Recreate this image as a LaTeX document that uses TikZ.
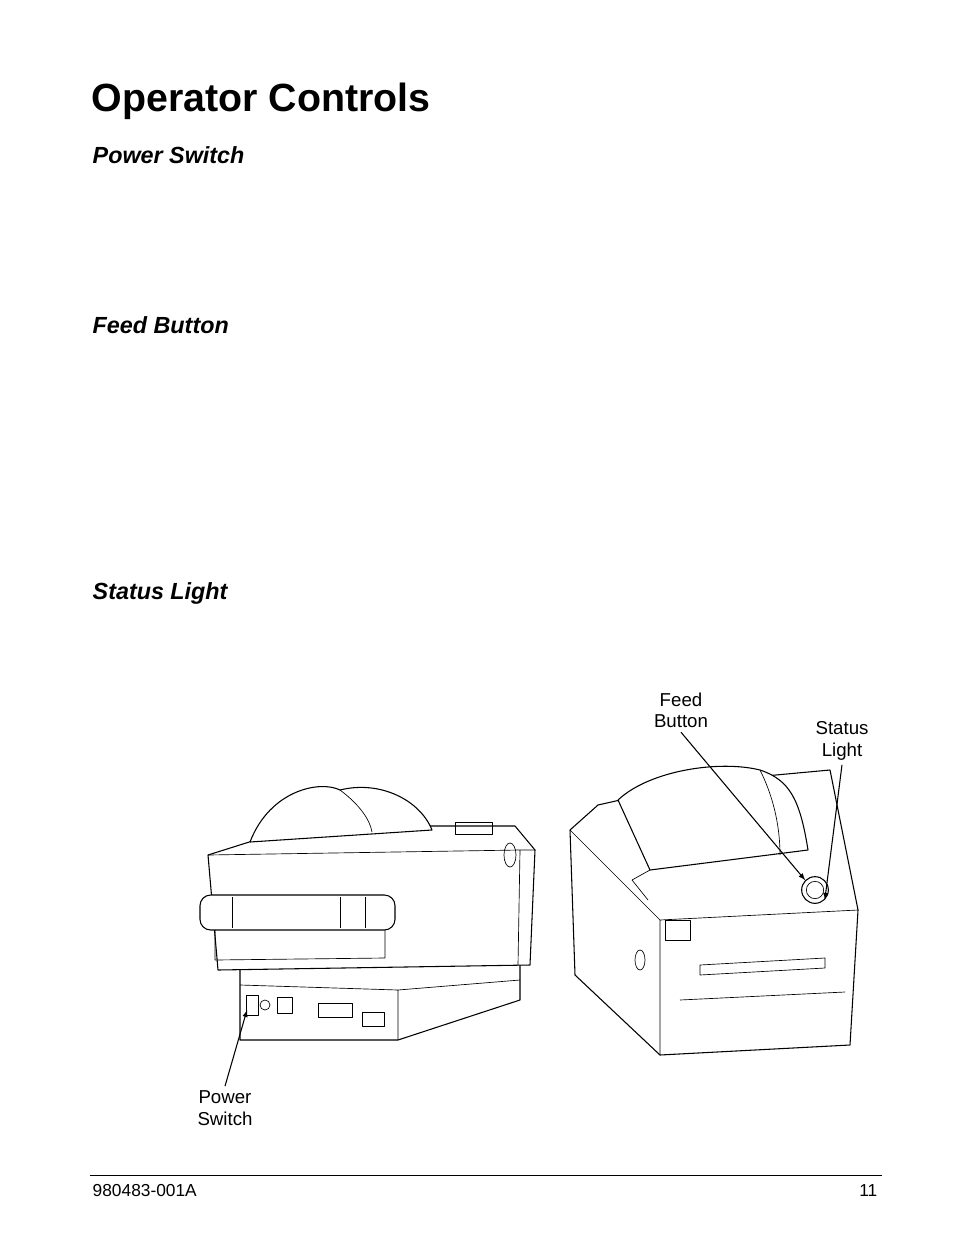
\documentclass[tikz,border=0pt]{standalone}
\usepackage{fontspec}
\setmainfont{Liberation Sans}
\begin{document}
\begin{tikzpicture}[x=0.75pt,y=-0.75pt,line join=round]
\tikzset{
  part/.style={draw, line width=0.8pt, fill=white},
  thin/.style={draw, line width=0.5pt},
  callout/.style={font=\fontsize{14}{16}\selectfont, align=center},
  pointer/.style={->, >=latex, line width=0.8pt},
  heading/.style={anchor=west, font=\fontsize{17.5}{20}\selectfont\bfseries\itshape}
}
\useasboundingbox (0,0) rectangle (954,1248);

% page text
\node[anchor=west, font=\fontsize{29.5}{32}\selectfont\bfseries] (title) at (87,101) {Operator Controls};
\node[heading] (hpower) at (88,155) {Power Switch};
\node[heading] (hfeed) at (88,325) {Feed Button};
\node[heading] (hstatus) at (88,593) {Status Light};

% rear view printer
\draw[part] (240,965) -- (520,962) -- (520,1000) -- (398,1040) -- (240,1040) -- cycle;
\draw[thin] (240,985) -- (398,990) -- (520,980) (398,990) -- (398,1040);
\draw[part] (208,855) -- (300,826) -- (515,826) -- (535,850) -- (530,965) -- (218,970) -- cycle;
\draw[thin] (208,855) -- (520,850) -- (535,850);
\draw[thin] (520,850) -- (518,965);
\draw[part] (250,842) .. controls (270,790) and (320,780) .. (340,790)
  .. controls (380,780) and (420,800) .. (432,830) -- (250,842);
\draw[thin] (340,790) .. controls (360,805) and (370,820) .. (372,832);
\draw[thin] (455,822) rectangle (492,834);
\draw[part, rounded corners=8pt] (200,895) rectangle (395,930);
\draw[thin] (232,897) -- (232,928) (340,897) -- (340,928) (365,897) -- (365,928);
\draw[thin] (215,930) -- (215,960) -- (385,958) -- (385,930);
\draw[thin] (510,855) ellipse (6 and 12);
\draw[thin] (246,995) rectangle (258,1015);
\draw[thin] (265,1005) circle (5);
\draw[thin] (277,997) rectangle (292,1013);
\draw[thin] (318,1003) rectangle (352,1017);
\draw[thin] (362,1012) rectangle (384,1026);

% front view printer
\draw[part] (570,830) -- (598,805) -- (700,782) -- (830,770) -- (858,910) -- (850,1045)
  -- (660,1055) -- (575,975) -- cycle;
\draw[thin] (570,830) -- (660,920) -- (858,910) (660,920) -- (660,1055);
\draw[part] (618,800) .. controls (650,770) and (720,760) .. (760,770)
  .. controls (790,780) and (800,800) .. (808,850) -- (650,870) -- cycle;
\draw[thin] (760,770) .. controls (775,800) and (780,830) .. (780,855);
\draw[thin] (632,880) -- (650,870) (632,880) -- (648,900);
\draw[thin] (665,920) rectangle (690,940);
\draw[thin] (700,965) -- (825,958) -- (825,968) -- (700,975) -- cycle;
\draw[thin] (680,1000) -- (845,992);
\draw[thin] (640,960) ellipse (5 and 10);
\node[draw, circle, line width=0.8pt, minimum size=20pt, inner sep=0] (button) at (815,890) {};
\node[draw, circle, line width=0.5pt, minimum size=13pt, inner sep=0] at (815,890) {};

% callouts
\node[callout] (feed) at (681,710) {Feed\\Button};
\node[callout] (status) at (842,741) {Status\\Light};
\node[callout] (power) at (225,1108) {Power\\Switch};
\coordinate (switch) at (247,1010);
\draw[pointer] (feed.south) -- (button.north west);
\draw[pointer] (status.south) -- (button.south east);
\draw[pointer] (power.north) -- (switch);

% footer
\draw[line width=0.6pt] (90,1175) -- (882,1175);
\node[anchor=west, font=\fontsize{13}{15}\selectfont] (docno) at (88,1191) {980483-001A};
\node[anchor=east, font=\fontsize{13}{15}\selectfont] (pageno) at (882,1191) {11};
\end{tikzpicture}
\end{document}
